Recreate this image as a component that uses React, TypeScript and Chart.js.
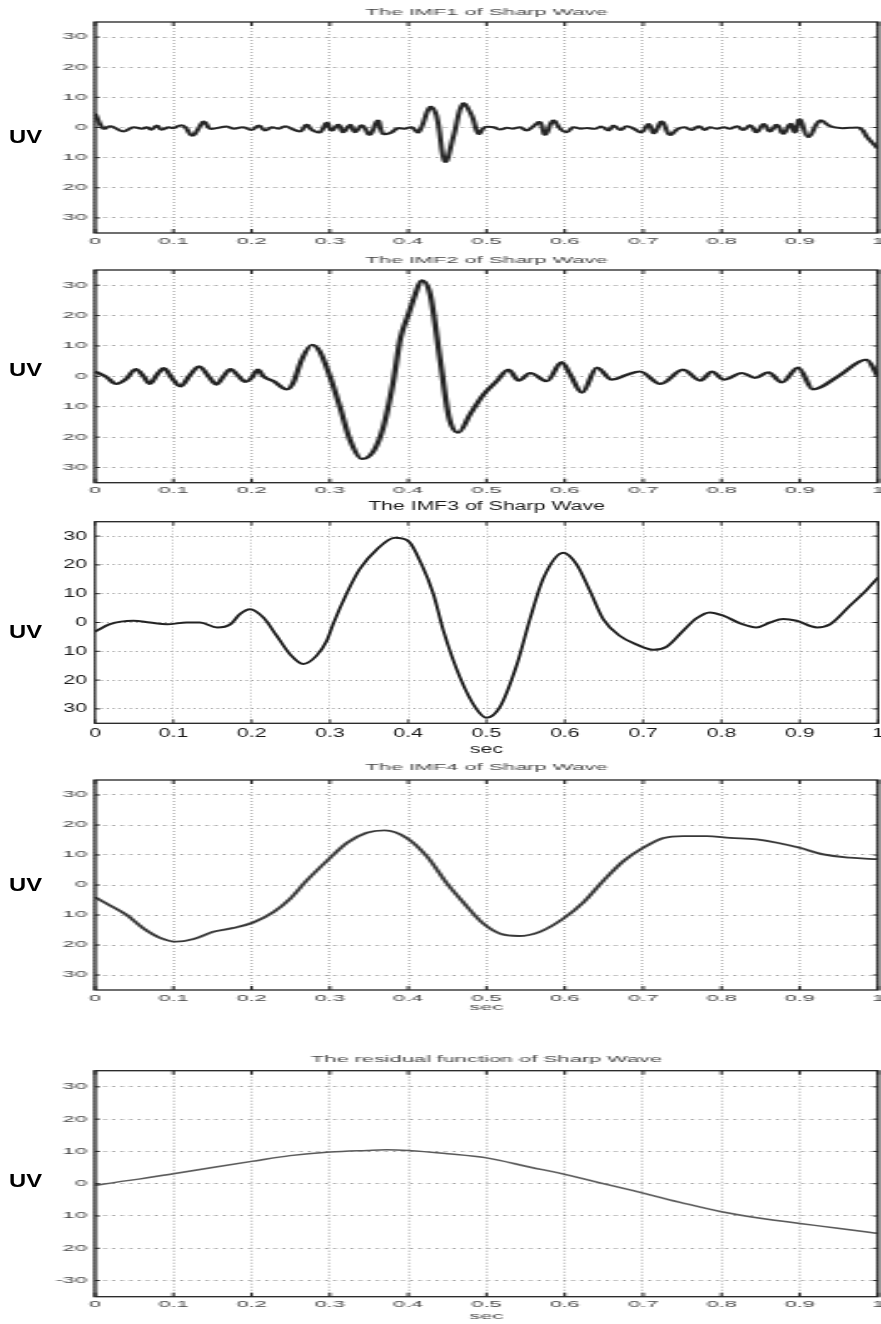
import React, { useEffect, useRef } from 'react';
import { Chart, registerables } from 'chart.js';

Chart.register(...registerables);

// ---------- axis ticks ----------
const xTickValues = [0, 0.1, 0.2, 0.3, 0.4, 0.5, 0.6, 0.7, 0.8, 0.9, 1];
const xTickLabels = ['0', '0.1', '0.2', '0.3', '0.4', '0.5', '0.6', '0.7', '0.8', '0.9', '1'];
const yTickValues = [-30, -20, -10, 0, 10, 20, 30];
const yTickLabelsImf = ['30', '20', '10', '0', '10', '20', '30'];
const yTickLabelsResidual = ['-30', '20', '10', '0', '10', '20', '30'];

// ---------- titles ----------
const titles = [
  'The IMF1 of Sharp Wave',
  'The IMF2 of Sharp Wave',
  'The IMF3 of Sharp Wave',
  'The IMF4 of Sharp Wave',
  'The residual function of Sharp Wave',
];

// ---------- IMF1 ----------
const imf1Time = [0, 0.011, 0.019, 0.026, 0.036, 0.049, 0.06, 0.066, 0.072, 0.079, 0.085, 0.094, 0.1, 0.109, 0.115, 0.124, 0.132, 0.139, 0.147, 0.155, 0.168, 0.177, 0.189, 0.2, 0.209, 0.217, 0.226, 0.234, 0.243, 0.251, 0.262, 0.27, 0.277, 0.287, 0.296, 0.302, 0.311, 0.317, 0.326, 0.332, 0.341, 0.351, 0.361, 0.368, 0.377, 0.387, 0.396, 0.404, 0.413, 0.428, 0.436, 0.447, 0.458, 0.47, 0.481, 0.49, 0.498, 0.509, 0.517, 0.526, 0.534, 0.543, 0.551, 0.56, 0.568, 0.575, 0.585, 0.594, 0.602, 0.611, 0.62, 0.628, 0.639, 0.647, 0.656, 0.662, 0.671, 0.679, 0.688, 0.698, 0.707, 0.714, 0.724, 0.734, 0.745, 0.753, 0.762, 0.771, 0.779, 0.785, 0.794, 0.803, 0.811, 0.82, 0.828, 0.837, 0.845, 0.854, 0.862, 0.871, 0.879, 0.888, 0.894, 0.9, 0.911, 0.926, 0.939, 0.952, 0.964, 0.977, 0.986, 1.0];
const imf1Values = [4.6, -0.4, 0.4, -0.2, -1.3, 0.1, -0.4, 0.1, -0.7, 0.7, -0.7, 0.1, -0.2, 0.7, 0.1, -2.7, -0.4, 2.0, -0.4, -0.2, 0.3, -0.4, 0.1, -0.8, 0.7, -1.0, 0.1, -0.4, 0.4, -0.4, -1.3, 0.9, -0.8, -1.6, 1.6, -1.0, 0.9, -1.6, 0.9, -1.6, 0.7, -2.4, 2.3, -2.1, -1.8, -0.2, -0.4, 0.1, -1.6, 6.8, 4.0, -11.3, -2.7, 7.9, 4.0, -2.1, 0.1, 0.1, -0.7, -0.1, -0.4, 0.1, -1.0, 0.4, 1.8, -2.4, 2.3, -0.4, -1.6, 0.1, -0.4, -0.2, -0.4, 0.3, -1.0, 0.7, -0.8, 0.4, -0.4, -1.6, 1.2, -1.9, 2.0, -2.4, -0.4, 0.1, -0.8, 0.4, -0.8, 0.1, -0.4, 0.1, -0.4, 0.4, -0.8, 0.7, -1.6, 1.2, -1.3, 0.9, -2.1, 1.2, -1.6, 2.7, -3.2, 2.3, 0.4, -0.2, -0.1, -0.2, -3.2, -7.0];

// ---------- IMF2 ----------
const imf2Time = [0, 0.015, 0.027, 0.04, 0.052, 0.062, 0.07, 0.079, 0.088, 0.098, 0.109, 0.121, 0.133, 0.145, 0.155, 0.164, 0.173, 0.182, 0.192, 0.2, 0.208, 0.215, 0.228, 0.245, 0.253, 0.264, 0.277, 0.287, 0.3, 0.313, 0.326, 0.341, 0.356, 0.368, 0.381, 0.39, 0.4, 0.409, 0.417, 0.428, 0.441, 0.452, 0.464, 0.479, 0.496, 0.513, 0.528, 0.541, 0.556, 0.577, 0.596, 0.607, 0.622, 0.641, 0.66, 0.679, 0.696, 0.722, 0.751, 0.773, 0.788, 0.803, 0.826, 0.843, 0.86, 0.877, 0.898, 0.917, 0.949, 0.985, 1.0];
const imf2Values = [1.6, -0.3, -2.5, -0.8, 2.4, 0, -2.5, 0.5, 2.7, -0.5, -3.3, 0.3, 3.3, 0, -2.7, 0, 2.4, 0.4, -1.8, -0.5, 2.2, 0, -1.6, -4.3, -2.2, 5.5, 10.4, 8.2, 0, -10.3, -21.2, -27.2, -24.5, -16.9, -1.6, 12.5, 20.2, 27.0, 31.6, 27.0, 5.0, -13.5, -18.5, -12.5, -6.0, -1.6, 2.2, -1.4, 1.1, -1.6, 4.7, 0.5, -5.4, 2.9, -1.1, 0.5, 1.6, -2.5, 2.2, -1.4, 1.6, -1.1, 1.1, -0.5, 1.3, -2.0, 2.9, -4.3, 0, 5.5, 0];

// ---------- IMF3 ----------
const imf3Time = [0, 0.019, 0.049, 0.07, 0.092, 0.117, 0.134, 0.156, 0.173, 0.185, 0.198, 0.215, 0.232, 0.249, 0.266, 0.283, 0.296, 0.304, 0.322, 0.338, 0.36, 0.383, 0.4, 0.417, 0.432, 0.445, 0.466, 0.487, 0.5, 0.517, 0.539, 0.556, 0.573, 0.598, 0.615, 0.632, 0.649, 0.67, 0.692, 0.713, 0.73, 0.751, 0.768, 0.785, 0.803, 0.824, 0.845, 0.862, 0.879, 0.896, 0.922, 0.939, 0.964, 0.986, 1.0];
const imf3Values = [-3.2, -0.6, 0.6, 0, -0.6, 0, 0, -1.7, -0.6, 2.9, 4.6, 1.7, -4.6, -11.0, -14.4, -11.5, -6.3, -0.6, 10.4, 18.5, 25.4, 29.4, 28.3, 20.2, 10.0, -2.9, -19.0, -30.0, -33.1, -29.4, -14.4, 1.7, 15.6, 24.2, 20.2, 11.0, 1.2, -4.6, -7.7, -9.5, -8.4, -2.9, 1.4, 3.5, 2.3, -0.3, -1.7, 0, 1.2, 0.6, -1.7, -0.6, 5.8, 11.5, 15.6];

// ---------- IMF4 ----------
const imf4Time = [0, 0.019, 0.041, 0.062, 0.083, 0.104, 0.126, 0.151, 0.177, 0.202, 0.228, 0.249, 0.27, 0.296, 0.322, 0.347, 0.37, 0.398, 0.424, 0.45, 0.47, 0.496, 0.517, 0.541, 0.568, 0.598, 0.624, 0.649, 0.675, 0.7, 0.726, 0.751, 0.781, 0.811, 0.845, 0.871, 0.9, 0.93, 0.964, 1.0];
const imf4Values = [-4.1, -6.8, -10.1, -14.5, -17.6, -18.9, -18.0, -15.6, -14.3, -12.5, -9.0, -4.6, 1.4, 8.0, 14.1, 17.4, 18.2, 15.7, 9.5, 0.3, -5.7, -12.9, -16.2, -17.0, -15.6, -11.2, -5.7, 1.4, 8.0, 12.4, 15.7, 16.3, 16.3, 15.7, 15.2, 14.1, 12.4, 10.2, 9.1, 8.6];

// ---------- residual ----------
const residualTime = [0, 0.028, 0.058, 0.1, 0.152, 0.2, 0.249, 0.3, 0.347, 0.372, 0.4, 0.45, 0.5, 0.556, 0.6, 0.649, 0.7, 0.751, 0.8, 0.852, 0.9, 0.951, 1.0];
const residualValues = [-0.5, 0.5, 1.5, 3.1, 5.1, 6.9, 8.7, 9.8, 10.3, 10.5, 10.3, 9.3, 8.0, 5.1, 2.9, 0, -2.9, -6.0, -8.7, -10.8, -12.3, -13.9, -15.4];

const FONT = '"Liberation Sans", Arial, Helvetica, sans-serif';

type PanelSpec = {
  title: string;
  time: number[];
  values: number[];
  yLabels: string[];
  showSec: boolean;
  canvasTop: number;
  canvasBottom: number;
  chartTop: number;
  chartBottom: number;
  titleY: number;
  secY: number;
  uvY: number;
  stretch: number;
  fontSize: number;
  textColor: string;
  lineColor: string;
  lineWidth: number;
  monotone: boolean;
};

const panels: PanelSpec[] = [
  { title: titles[0], time: imf1Time, values: imf1Values, yLabels: yTickLabelsImf, showSec: false,
    canvasTop: 0, canvasBottom: 254, chartTop: 22, chartBottom: 233, titleY: 13, secY: 0, uvY: 137,
    stretch: 2.5, fontSize: 8.7, textColor: '#444', lineColor: '#262626', lineWidth: 2, monotone: false },
  { title: titles[1], time: imf2Time, values: imf2Values, yLabels: yTickLabelsImf, showSec: false,
    canvasTop: 248, canvasBottom: 500, chartTop: 270, chartBottom: 482.7, titleY: 261, secY: 0, uvY: 370,
    stretch: 2.5, fontSize: 8.7, textColor: '#444', lineColor: '#222', lineWidth: 2.2, monotone: true },
  { title: titles[2], time: imf3Time, values: imf3Values, yLabels: yTickLabelsImf, showSec: true,
    canvasTop: 494, canvasBottom: 760, chartTop: 521.7, chartBottom: 723.3, titleY: 506.7, secY: 750, uvY: 631.5,
    stretch: 1.7, fontSize: 12.5, textColor: '#1a1a1a', lineColor: '#222', lineWidth: 2, monotone: true },
  { title: titles[3], time: imf4Time, values: imf4Values, yLabels: yTickLabelsImf, showSec: true,
    canvasTop: 755, canvasBottom: 1018, chartTop: 780, chartBottom: 990, titleY: 768, secY: 1007.7, uvY: 884.5,
    stretch: 2.5, fontSize: 8.7, textColor: '#444', lineColor: '#383838', lineWidth: 1.8, monotone: true },
  { title: titles[4], time: residualTime, values: residualValues, yLabels: yTickLabelsResidual, showSec: true,
    canvasTop: 1046, canvasBottom: 1324, chartTop: 1070.7, chartBottom: 1296.7, titleY: 1060, secY: 1316.7, uvY: 1181,
    stretch: 2.5, fontSize: 8.7, textColor: '#444', lineColor: '#5a5a5a', lineWidth: 1.5, monotone: true },
];

const framePlugin = {
  id: 'matlabFrame',
  afterDraw(chart: any, _args: any, opts: any) {
    const { ctx, chartArea: a } = chart;
    const xs = chart.scales.x;
    const ys = chart.scales.y;
    ctx.save();
    ctx.setLineDash([]);
    ctx.strokeStyle = opts.color;
    ctx.lineWidth = 1;
    ctx.beginPath();
    for (const v of xTickValues) {
      const px = xs.getPixelForValue(v);
      ctx.moveTo(px, a.bottom);
      ctx.lineTo(px, a.bottom - opts.tickV);
      ctx.moveTo(px, a.top);
      ctx.lineTo(px, a.top + opts.tickV);
    }
    for (const v of yTickValues) {
      const py = ys.getPixelForValue(v);
      ctx.moveTo(a.left, py);
      ctx.lineTo(a.left + opts.tickH, py);
      ctx.moveTo(a.right, py);
      ctx.lineTo(a.right - opts.tickH, py);
    }
    ctx.stroke();
    ctx.lineWidth = opts.frameWidth;
    ctx.strokeRect(a.left, a.top, a.right - a.left, a.bottom - a.top);
    ctx.restore();
  },
};

function Panel({ spec }: { spec: PanelSpec }) {
  const ref = useRef<HTMLCanvasElement>(null);
  const W = Math.round(881 / spec.stretch);
  const s = 881 / W;
  const H = spec.canvasBottom - spec.canvasTop;

  useEffect(() => {
    if (!ref.current) return;
    const lh = spec.fontSize * 1.2;
    const titleRel = spec.titleY - spec.canvasTop;
    const chartTopRel = spec.chartTop - spec.canvasTop;
    const chartBottomRel = spec.chartBottom - spec.canvasTop;
    const axisH = H - chartBottomRel;
    const leftPx = 95 / s;
    const rightPx = 878 / s;
    const font = { family: FONT, size: spec.fontSize, weight: 'normal' as const, lineHeight: 1.2 };

    const chart = new Chart(ref.current, {
      type: 'line',
      data: {
        datasets: [
          {
            data: spec.time.map((t, i) => ({ x: t, y: spec.values[i] })),
            borderColor: spec.lineColor,
            borderWidth: spec.lineWidth,
            pointRadius: 0,
            fill: false,
            cubicInterpolationMode: spec.monotone ? 'monotone' : 'default',
            tension: spec.monotone ? 0 : 0.4,
          },
        ],
      },
      options: {
        responsive: false,
        animation: false,
        devicePixelRatio: 1,
        events: [],
        layout: { padding: { left: 0, right: W - rightPx, top: 0, bottom: 0 } },
        plugins: {
          legend: { display: false },
          tooltip: { enabled: false },
          title: {
            display: true,
            text: spec.title,
            fullSize: false,
            color: spec.textColor,
            font,
            padding: { top: titleRel - lh / 2, bottom: chartTopRel - titleRel - lh / 2 },
          },
          matlabFrame: { color: '#222', frameWidth: 1.3, tickV: 4, tickH: 5 / s },
        } as any,
        scales: {
          x: {
            type: 'linear',
            min: 0,
            max: 1,
            afterBuildTicks: (scale: any) => {
              scale.ticks = xTickValues.map((v) => ({ value: v }));
            },
            afterFit: (scale: any) => {
              scale.height = axisH;
              scale.paddingLeft = 0;
              scale.paddingRight = 0;
            },
            ticks: {
              autoSkip: false,
              maxRotation: 0,
              padding: 3,
              color: spec.textColor,
              font,
              callback: (value: any) => {
                const i = xTickValues.findIndex((v) => Math.abs(v - Number(value)) < 1e-9);
                return i >= 0 ? xTickLabels[i] : '';
              },
            },
            grid: { color: '#8a8a8a', lineWidth: 0.6, drawTicks: false },
            border: { display: false, dash: [1, 2] },
            title: {
              display: spec.showSec,
              text: 'sec',
              color: spec.textColor,
              font,
              padding: { top: 0, bottom: spec.showSec ? spec.canvasBottom - spec.secY - lh / 2 : 0 },
            },
          },
          y: {
            type: 'linear',
            min: -35,
            max: 35,
            afterBuildTicks: (scale: any) => {
              scale.ticks = yTickValues.map((v) => ({ value: v }));
            },
            afterFit: (scale: any) => {
              scale.width = leftPx;
            },
            ticks: {
              autoSkip: false,
              padding: 8 / s,
              color: spec.textColor,
              font,
              callback: (value: any) => {
                const i = yTickValues.indexOf(Number(value));
                return i >= 0 ? spec.yLabels[i] : '';
              },
            },
            grid: { color: '#a0a0a0', lineWidth: 1, drawTicks: false },
            border: { display: false, dash: [1.2, 2.2] },
          },
        },
      } as any,
      plugins: [framePlugin as any],
    });
    return () => chart.destroy();
  }, []);

  return (
    <canvas
      ref={ref}
      width={W}
      height={H}
      style={{
        position: 'absolute',
        left: 0,
        top: spec.canvasTop,
        width: W,
        height: H,
        display: 'block',
        transform: `scaleX(${s})`,
        transformOrigin: '0 0',
      }}
    />
  );
}

export default function App() {
  return (
    <div
      style={{
        position: 'absolute',
        left: 0,
        top: 0,
        width: 881,
        height: 1324,
        background: '#fff',
        overflow: 'hidden',
      }}
    >
      {panels.map((p, i) => (
        <Panel key={i} spec={p} />
      ))}
      {panels.map((p, i) => (
        <div
          key={'uv' + i}
          style={{
            position: 'absolute',
            left: 9,
            top: p.uvY - 11,
            fontFamily: FONT,
            fontWeight: 900,
            fontSize: 19,
            lineHeight: '22px',
            color: '#000',
            transform: 'scaleX(1.25)',
            transformOrigin: '0 0',
            whiteSpace: 'nowrap',
          }}
        >
          UV
        </div>
      ))}
    </div>
  );
}
